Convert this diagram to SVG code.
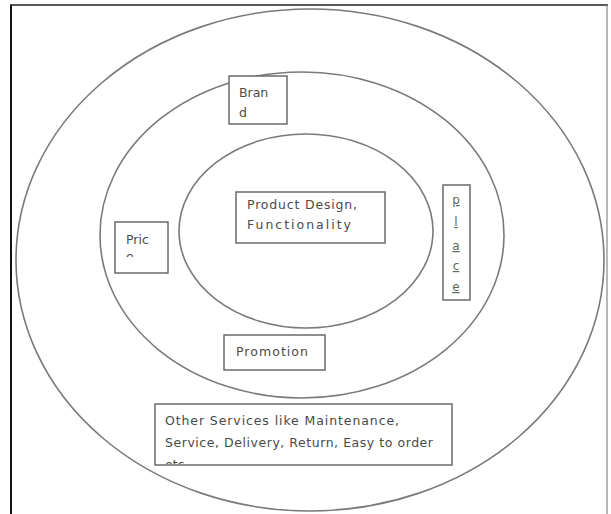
<svg xmlns="http://www.w3.org/2000/svg" width="611" height="514" viewBox="0 0 611 514">
<style>
.ring{fill:none;stroke:#7a7a7a;stroke-width:1.6}
.box{fill:#fff;stroke:#6a6a6a;stroke-width:1.5}
.t{font-family:"DejaVu Sans","Liberation Sans",sans-serif;font-size:12.5px;fill:#4a4a4a}
.pl{font-family:"DejaVu Sans","Liberation Sans",sans-serif;font-size:12px;fill:#5a6a5a;text-decoration:underline;text-anchor:middle}
</style>
<defs>
<clipPath id="cp-price"><rect x="115" y="222" width="53" height="35"/></clipPath>
<clipPath id="cp-other"><rect x="155" y="404" width="297" height="60"/></clipPath>
</defs>
<rect x="0" y="0" width="611" height="514" fill="#fff"/>
<g id="frame">
<line x1="11" y1="5" x2="11" y2="514" stroke="#111" stroke-width="2"/>
<line x1="10" y1="5" x2="608" y2="5" stroke="#222" stroke-width="1.5"/>
<line x1="607" y1="5" x2="607" y2="514" stroke="#888" stroke-width="1.2"/>
</g>
<g id="rings">
<ellipse id="outer" class="ring" cx="310" cy="260" rx="294" ry="251"/>
<ellipse id="middle" class="ring" cx="302" cy="235" rx="202" ry="163"/>
<ellipse id="inner" class="ring" cx="306" cy="231" rx="127" ry="97"/>
</g>
<g id="brand">
<rect class="box" x="229" y="76" width="58" height="48"/>
<text class="t" x="239" y="97">Bran</text>
<text class="t" x="239" y="117">d</text>
</g>
<g id="product">
<rect class="box" x="236" y="192" width="149" height="51"/>
<text class="t" x="247" y="209" textLength="110">Product Design,</text>
<text class="t" x="247" y="229" textLength="104">Functionality</text>
</g>
<g id="price">
<rect class="box" x="115" y="222" width="53" height="51"/>
<text class="t" x="126" y="244">Pric</text>
<text class="t" x="126" y="261" clip-path="url(#cp-price)">e</text>
</g>
<g id="place">
<rect class="box" x="443" y="185" width="27" height="115"/>
<text class="pl" x="456" y="204">p</text>
<text class="pl" x="456" y="226">l</text>
<text class="pl" x="456" y="250">a</text>
<text class="pl" x="456" y="270">c</text>
<text class="pl" x="456" y="291">e</text>
</g>
<g id="promotion">
<rect class="box" x="224" y="335" width="101" height="35"/>
<text class="t" x="236" y="356" textLength="72">Promotion</text>
</g>
<g id="other">
<rect class="box" x="155" y="404" width="297" height="61"/>
<text class="t" x="165" y="425" textLength="234">Other Services like Maintenance,</text>
<text class="t" x="165" y="447" textLength="268">Service, Delivery, Return, Easy to order</text>
<text class="t" x="165" y="469" clip-path="url(#cp-other)">etc.</text>
</g>
<g id="connectors"></g>
</svg>
